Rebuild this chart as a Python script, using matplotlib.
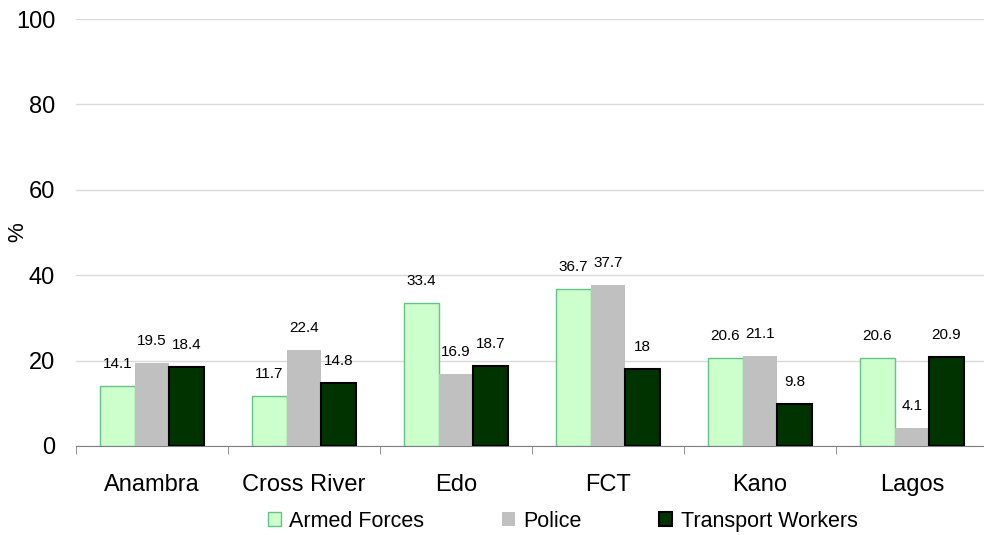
import numpy as np
import matplotlib.pyplot as plt

plt.rcParams['font.family'] = ['Liberation Sans', 'DejaVu Sans']

states = ['Anambra', 'Cross River', 'Edo', 'FCT', 'Kano', 'Lagos']
armed = [14.1, 11.7, 33.4, 36.7, 20.6, 20.6]
police = [19.5, 22.4, 16.9, 37.7, 21.1, 4.1]
transport = [18.4, 14.8, 18.7, 18, 9.8, 20.9]
series = ['Armed Forces', 'Police', 'Transport Workers']

fig = plt.figure(figsize=(9.84, 5.35), dpi=100)
ax = fig.add_axes([76 / 984, 1 - 446 / 535, 912 / 984, 427 / 535])

x = np.arange(len(states))
w = 0.227
styles = [
    dict(facecolor='#CCFFCC', edgecolor='#66C28A', linewidth=1),
    dict(facecolor='#C0C0C0', edgecolor='#C0C0C0', linewidth=0),
    dict(facecolor='#003300', edgecolor='black', linewidth=1.5),
]
for i, (vals, name) in enumerate(zip([armed, police, transport], series)):
    bars = ax.bar(x + (i - 1) * w, vals, w, label=name, zorder=3, **styles[i])
    for b, v in zip(bars, vals):
        ax.text(b.get_x() + b.get_width() / 2, v + 5.2, f'{v:g}',
                ha='center', va='center', fontsize=11)

ax.set_xlim(-0.5, len(states) - 0.5)
ax.set_ylim(0, 100)
ax.set_yticks(range(0, 101, 20))
ax.yaxis.grid(True, color='#D9D9D9', linewidth=1, zorder=0)
ax.set_xticks(x)
ax.set_xticklabels(states, fontsize=17)
ax.set_xticks(np.arange(-0.5, len(states)), minor=True)
ax.tick_params(axis='x', which='major', length=0, pad=20)
ax.tick_params(axis='x', which='minor', length=6, color='#808080', direction='out')
ax.tick_params(axis='y', length=0, labelsize=17, pad=15)
for s in ['top', 'right', 'left']:
    ax.spines[s].set_visible(False)
ax.spines['bottom'].set_color('#808080')
ax.set_ylabel('%', fontsize=16)
ax.yaxis.set_label_coords(-(76 - 28) / 912, 0.5)

fig.legend(loc='lower center', bbox_to_anchor=(0.572, -0.03), ncol=3, frameon=False,
           fontsize=15.5, handlelength=0.6, handleheight=0.6, handletextpad=0.4,
           columnspacing=3.6)

fig.savefig('out.png', dpi=100)
